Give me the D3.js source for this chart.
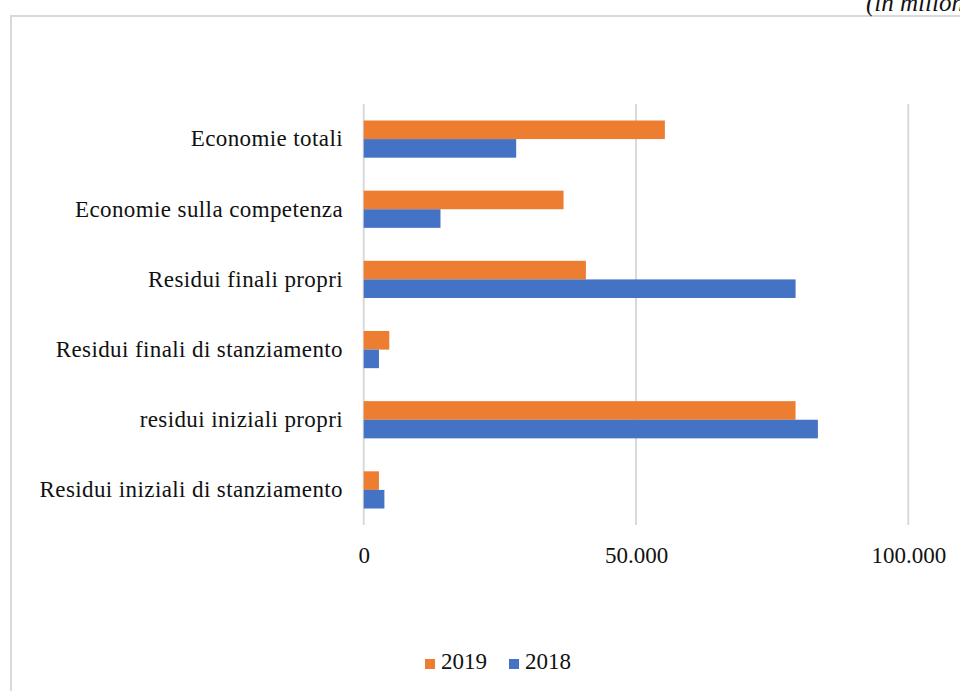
<!DOCTYPE html>
<html>
<head>
<meta charset="utf-8">
<script src="https://cdn.jsdelivr.net/npm/d3@7"></script>
<style>
  html, body { margin: 0; padding: 0; background: #fff; }
  svg { display: block; }
  text { font-family: "Liberation Serif", "Times New Roman", serif; fill: #111; }
</style>
</head>
<body>
<svg id="chart" width="960" height="691"></svg>
<script>
// Categories, top to bottom
const categories = [
  "Economie totali",
  "Economie sulla competenza",
  "Residui finali propri",
  "Residui finali di stanziamento",
  "residui iniziali propri",
  "Residui iniziali di stanziamento"
];
// Series (in milioni)
const seriesNames = ["2019", "2018"];
const values2019 = [55300, 36700, 40800, 4700, 79300, 2800];
const values2018 = [28000, 14100, 79300, 2800, 83400, 3800];
const seriesColors = ["#ED7D31", "#4472C4"];
const tickValues = [0, 50000, 100000];
const tickLabels = ["0", "50.000", "100.000"];
const unitNote = "(in milioni)";

const serif = '"Liberation Serif", "Times New Roman", serif';
const svg = d3.select("#chart");

// Outer frame
svg.append("rect")
  .attr("x", 11).attr("y", 16)
  .attr("width", 1100).attr("height", 1000)
  .attr("fill", "none")
  .attr("stroke", "#d9d9d9")
  .attr("stroke-width", 2);

// Unit note, top right
svg.append("text")
  .attr("x", 866).attr("y", 11)
  .style("font-family", serif)
  .style("font-style", "italic")
  .style("font-size", "25px")
  .text(unitNote);

const x = d3.scaleLinear().domain([0, 100000]).range([363.7, 908.3]);
const y = d3.scaleBand().domain(categories).range([104, 525])
  .paddingInner(0.47).paddingOuter(0.235);
const ySub = d3.scaleBand().domain(seriesNames).range([0, y.bandwidth()]);

// Vertical gridlines
svg.append("g").selectAll("line")
  .data(tickValues)
  .join("line")
  .attr("x1", d => x(d)).attr("x2", d => x(d))
  .attr("y1", 104).attr("y2", 525)
  .attr("stroke", "#d9d9d9")
  .attr("stroke-width", 2);

// Bars
const rows = categories.map((c, i) => ({ cat: c, vals: [values2019[i], values2018[i]] }));
const groups = svg.append("g").selectAll("g")
  .data(rows)
  .join("g")
  .attr("transform", d => `translate(0,${y(d.cat)})`);
groups.selectAll("rect")
  .data(d => d.vals.map((v, j) => ({ v, s: seriesNames[j], c: seriesColors[j] })))
  .join("rect")
  .attr("x", x(0))
  .attr("y", d => ySub(d.s))
  .attr("width", d => x(d.v) - x(0))
  .attr("height", ySub.bandwidth())
  .attr("fill", d => d.c);

// Category labels (y axis)
const yAxis = d3.axisLeft(y).tickSize(0).tickPadding(0);
const gy = svg.append("g").attr("transform", "translate(343,0)").call(yAxis);
gy.select(".domain").remove();
gy.selectAll("text")
  .style("font-family", serif)
  .style("font-size", "23px")
  .style("letter-spacing", "0.4px")
  .attr("fill", "#111");

// Value labels (x axis)
const xAxis = d3.axisBottom(x).tickValues(tickValues)
  .tickFormat((d, i) => tickLabels[i]).tickSize(0).tickPadding(0);
const gx = svg.append("g").attr("transform", "translate(0,547)").call(xAxis);
gx.select(".domain").remove();
gx.selectAll("text")
  .style("font-family", serif)
  .style("font-size", "23px")
  .attr("fill", "#111");

// Legend
const legend = svg.append("g").attr("transform", "translate(425,669)");
const legendItems = [
  { name: seriesNames[0], color: seriesColors[0], x: 0 },
  { name: seriesNames[1], color: seriesColors[1], x: 84 }
];
const li = legend.selectAll("g").data(legendItems).join("g")
  .attr("transform", d => `translate(${d.x},0)`);
li.append("rect").attr("x", 0).attr("y", -10).attr("width", 10).attr("height", 10)
  .attr("fill", d => d.color);
li.append("text").attr("x", 16).attr("y", 0)
  .style("font-family", serif)
  .style("font-size", "23px")
  .text(d => d.name);
</script>
</body>
</html>
